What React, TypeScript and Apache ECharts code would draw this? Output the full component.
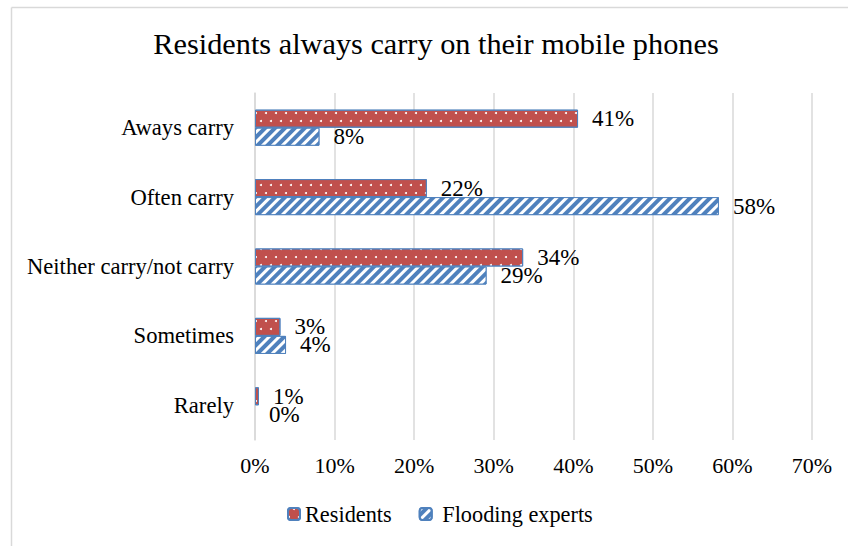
import React, { useEffect, useRef } from "react";
import * as echarts from "echarts";

const categories = ["Aways carry", "Often carry", "Neither carry/not carry", "Sometimes", "Rarely"];
const residents = [40.6, 21.6, 33.7, 3.2, 0.5];
const experts = [8.1, 58.3, 29.1, 3.9, 0];
const seriesNames = ["Residents", "Flooding experts"];

const FONT = "'Liberation Serif', 'Times New Roman', serif";

export default function App() {
  const ref = useRef<HTMLDivElement>(null);
  useEffect(() => {
    if (!ref.current) return;
    const chart = echarts.init(ref.current, undefined, { renderer: "svg" });
    const labelCommon = {
      show: true,
      position: "right" as const,
      distance: 14,
      color: "#000",
      fontFamily: FONT,
      fontSize: 23,
      lineHeight: 18,
      formatter: (p: any) => Math.round(p.value) + "%",
    };
    const noZeroBorder = (arr: number[]) =>
      arr.map((v) => (v === 0 ? { value: v, itemStyle: { borderWidth: 0 } } : v));
    chart.setOption({
      animation: false,
      backgroundColor: "#fff",
      textStyle: { fontFamily: FONT },
      title: {
        text: "Residents always carry on their mobile phones",
        left: 431,
        textAlign: "center",
        top: 24,
        textStyle: { fontFamily: FONT, fontSize: 30.3, fontWeight: "normal", color: "#000" },
      },
      legend: {
        data: seriesNames,
        left: 287,
        top: 503,
        padding: 0,
        itemWidth: 12,
        itemHeight: 12,
        itemGap: 27,
        formatter: (name: string) => (name === seriesNames[1] ? " " + name : name),
        textStyle: { fontFamily: FONT, fontSize: 22.3, color: "#000" },
      },
      grid: { left: 255, right: 36, top: 93, bottom: 106, containLabel: false },
      xAxis: {
        type: "value",
        min: 0,
        max: 70,
        interval: 10,
        axisLine: { show: false },
        axisTick: { show: false },
        splitLine: { show: true, lineStyle: { color: "#D9D9D9", width: 1.5 } },
        axisLabel: {
          formatter: "{value}%",
          color: "#000",
          fontFamily: FONT,
          fontSize: 22,
          margin: 14,
        },
      },
      yAxis: {
        type: "category",
        data: categories,
        inverse: true,
        axisLine: { show: true, lineStyle: { color: "#D9D9D9", width: 1.5 } },
        axisTick: { show: false },
        axisLabel: { color: "#000", fontFamily: FONT, fontSize: 22.6, margin: 21 },
      },
      series: [
        {
          name: seriesNames[0],
          type: "bar",
          data: noZeroBorder(residents),
          barGap: "0%",
          barCategoryGap: "48%",
          itemStyle: {
            color: "#C0504D",
            borderColor: "#4F81BD",
            borderWidth: 1,
            decal: {
              symbol: "circle",
              symbolSize: 1,
              color: "#fff",
              dashArrayX: [[2, 8], [0, 5, 2, 3]],
              dashArrayY: [2, 6],
            },
          },
          label: labelCommon,
        },
        {
          name: seriesNames[1],
          type: "bar",
          data: noZeroBorder(experts),
          barGap: "0%",
          barCategoryGap: "48%",
          itemStyle: {
            color: "#4F81BD",
            borderColor: "#4F81BD",
            borderWidth: 1,
            decal: {
              symbol: "rect",
              symbolSize: 1,
              color: "#fff",
              dashArrayX: [1, 0],
              dashArrayY: [3, 4],
              rotation: -Math.PI / 4,
            },
          },
          label: labelCommon,
        },
      ],
      graphic: [
        { type: "line", shape: { x1: 11.5, y1: 7.5, x2: 848, y2: 7.5 }, style: { stroke: "#D9D9D9", lineWidth: 1.5 } },
        { type: "line", shape: { x1: 11.5, y1: 7.5, x2: 11.5, y2: 546 }, style: { stroke: "#D9D9D9", lineWidth: 1.5 } },
      ],
    });
    return () => chart.dispose();
  }, []);
  return (
    <div style={{ position: "fixed", left: 0, top: 0, width: 848, height: 546, background: "#fff" }}>
      <div ref={ref} style={{ width: 848, height: 546 }} />
    </div>
  );
}
